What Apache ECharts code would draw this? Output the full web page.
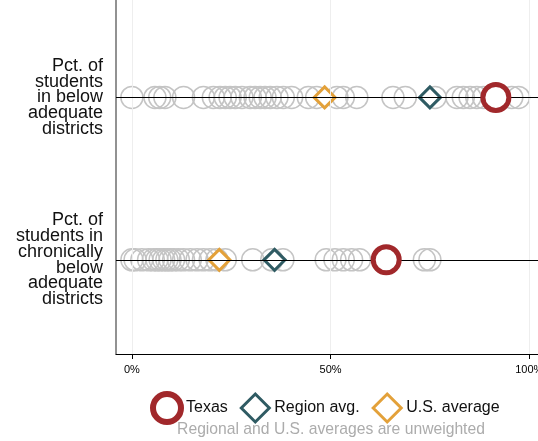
<!DOCTYPE html>
<html>
<head>
<meta charset="utf-8">
<script src="https://cdn.jsdelivr.net/npm/echarts@6/dist/echarts.min.js"></script>
<style>html,body{margin:0;padding:0;background:#fff}#c{width:538px;height:441px}</style>
</head>
<body>
<div id="c"></div>
<script>
// Rows (y positions on a value axis): 2 = top row, 1 = bottom row
const rowLabels = {
  2: "Pct. of\nstudents\nin below\nadequate\ndistricts",
  1: "Pct. of\nstudents in\nchronically\nbelow\nadequate\ndistricts"
};
const rowValues = [2, 1];
// Other states (percent)
const belowAdequate = [0, 5.8, 7, 8.3, 13, 18, 20.5, 22.2, 23.5, 24.7, 26, 27.7, 29.8, 31, 32.3, 33.5, 34.8, 36.5, 38.1, 40.2, 44.4, 46.5, 51.6, 53.2, 56.6, 65.7, 68.8, 76.3, 81.8, 83.4, 85.1, 86.8, 88.5, 95.6, 97.3];
const chronicBelow = [0, 0.8, 2.5, 4.2, 5.4, 6.3, 7.1, 8, 8.8, 9.6, 10.5, 11.7, 13, 14.7, 16.4, 18, 19.7, 21.4, 23.5, 30.4, 35.2, 38, 48.9, 51.1, 53.2, 55.3, 57.3, 73.6, 75];
// Highlighted markers [top row, bottom row]
const texas = [91.6, 64];
const regionAvg = [75, 35.9];
const usAvg = [48.5, 22];
const xTicks = [0, 50, 100];

const FONT = "'Liberation Sans', Arial, sans-serif";
const chart = echarts.init(document.getElementById('c'));
const pair = arr => arr.map((v, i) => [v, rowValues[i]]);

const RED = '#a1282b', TEAL = '#2f5b63', ORANGE = '#e3a13a';

chart.setOption({
  animation: false,
  textStyle: { fontFamily: FONT },
  grid: { left: 116, right: 0, top: 0, bottom: 87, containLabel: false, outerBoundsMode: 'none' },
  xAxis: {
    type: 'value', min: -4, max: 102.2,
    axisLine: { show: true, onZero: false, lineStyle: { color: '#000', width: 1 } },
    axisTick: { show: true, customValues: xTicks, length: 5, lineStyle: { color: '#000' } },
    axisLabel: { customValues: xTicks, formatter: '{value}%', fontSize: 11, color: '#000', margin: 10, fontFamily: FONT },
    splitLine: { show: false }
  },
  yAxis: {
    type: 'value', min: 0.42, max: 2.6,
    axisLine: { show: true, onZero: false, lineStyle: { color: '#6e6e6e', width: 1.5 } },
    axisTick: { show: false },
    splitLine: { show: false },
    axisLabel: {
      customValues: rowValues,
      formatter: v => rowLabels[v] || '',
      fontSize: 18, lineHeight: 15.8, color: '#111', align: 'right', margin: 13, fontFamily: FONT
    }
  },
  legend: {
    data: [
      { name: 'Texas', itemStyle: { color: '#fff', borderColor: RED, borderWidth: 6 } },
      { name: 'Region avg.', itemStyle: { color: '#fff', borderColor: TEAL, borderWidth: 3 } },
      { name: 'U.S. average', itemStyle: { color: '#fff', borderColor: ORANGE, borderWidth: 3 } }
    ],
    top: 386, left: 145,
    itemWidth: 28, itemHeight: 28, itemGap: 12,
    textStyle: { fontSize: 16, color: '#111', fontFamily: FONT }
  },
  graphic: [{
    type: 'text', x: 331, y: 430,
    style: { text: 'Regional and U.S. averages are unweighted', fill: '#acacac', fontSize: 15.7, fontFamily: FONT, align: 'center', verticalAlign: 'middle' }
  }],
  series: [
    {
      name: 'grid', type: 'scatter', data: [], silent: true, z: 0,
      markLine: {
        silent: true, symbol: 'none', label: { show: false },
        lineStyle: { color: '#eeeeee', width: 1, type: 'solid' },
        data: xTicks.map(t => ({ xAxis: t }))
      }
    },
    {
      name: 'rows', type: 'scatter', data: [], silent: true, z: 1,
      markLine: {
        silent: true, symbol: 'none', label: { show: false },
        lineStyle: { color: '#000', width: 1, type: 'solid' },
        data: rowValues.map(r => ({ yAxis: r }))
      }
    },
    {
      name: 'Other states', type: 'scatter', z: 2,
      symbol: 'circle', symbolSize: 22,
      itemStyle: { color: 'rgba(0,0,0,0)', borderColor: '#c4c4c4', borderWidth: 1.5, opacity: 1 },
      data: belowAdequate.map(v => [v, 2]).concat(chronicBelow.map(v => [v, 1]))
    },
    {
      name: 'U.S. average', type: 'scatter', z: 3,
      symbol: 'diamond', symbolSize: 21,
      itemStyle: { color: '#fff', borderColor: ORANGE, borderWidth: 3, opacity: 1 },
      data: pair(usAvg)
    },
    {
      name: 'Region avg.', type: 'scatter', z: 4,
      symbol: 'diamond', symbolSize: 21,
      itemStyle: { color: '#fff', borderColor: TEAL, borderWidth: 3, opacity: 1 },
      data: pair(regionAvg)
    },
    {
      name: 'Texas', type: 'scatter', z: 5,
      symbol: 'circle', symbolSize: 26,
      itemStyle: { color: '#fff', borderColor: RED, borderWidth: 5, opacity: 1 },
      data: pair(texas)
    }
  ]
});
</script>
</body>
</html>
